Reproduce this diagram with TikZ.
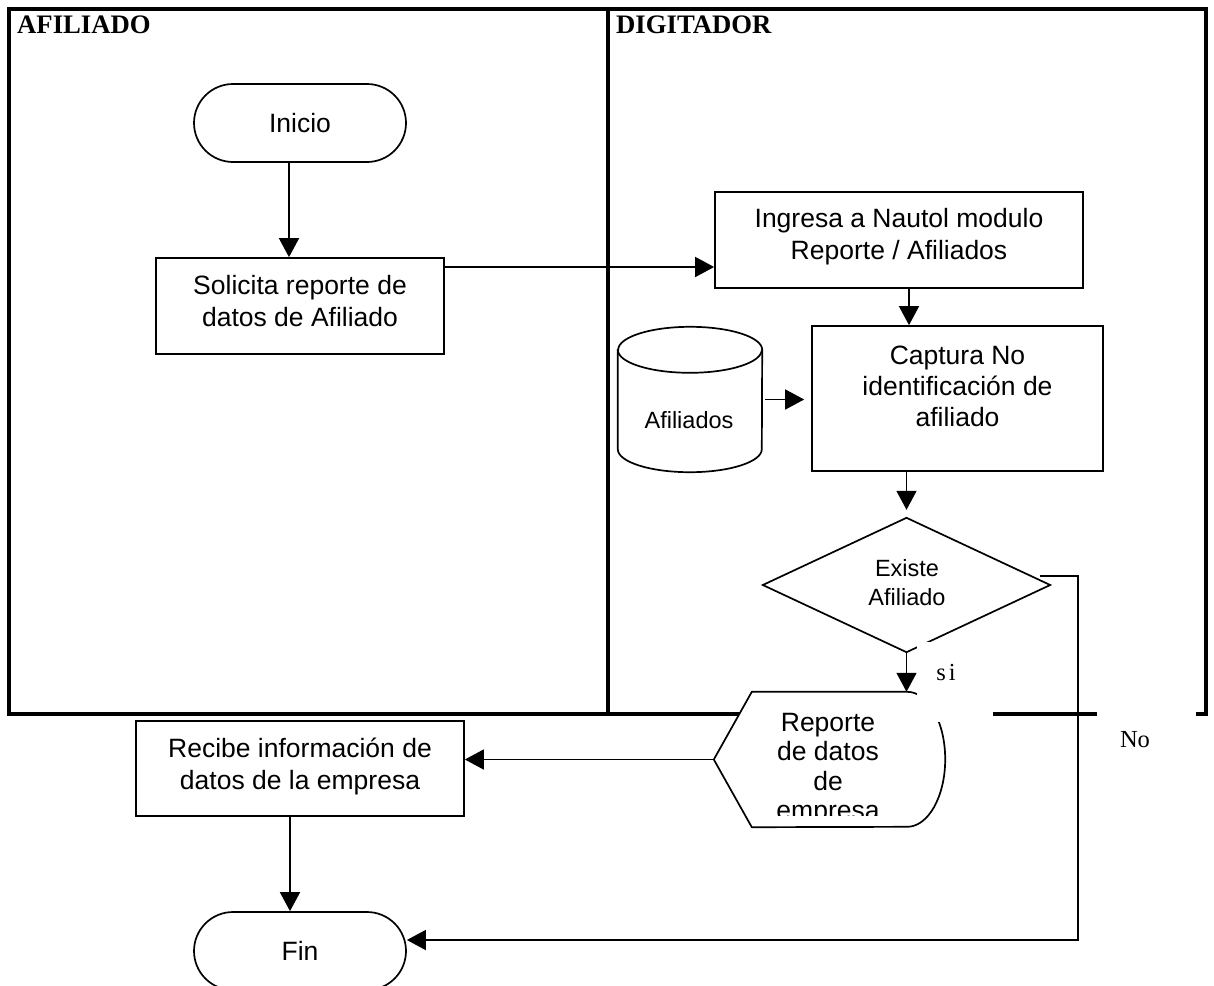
\documentclass[tikz,border=0pt]{standalone}
\usepackage{fontspec}
\setmainfont{Liberation Serif}
\newfontfamily\arialfont{Liberation Sans}
\usetikzlibrary{arrows.meta,shapes.misc,calc}

% fonts used in the flowchart
\newcommand{\fxbody}{\arialfont\fontsize{26.5}{32}\selectfont}
\newcommand{\fxsmall}{\arialfont\fontsize{23.5}{29}\selectfont}
\newcommand{\fxlane}{\bfseries\fontsize{26.7}{32}\selectfont}
\newcommand{\fxtag}{\fontsize{24.5}{29}\selectfont}

\begin{document}
\begin{tikzpicture}[x=1pt,y=-1pt,
  frame/.style={line width=3.2pt},
  box/.style={draw,line width=1.7pt,inner sep=0pt,fill=white},
  term/.style={draw,line width=1.7pt,rounded rectangle,inner sep=0pt,
               minimum width=212pt,minimum height=78pt,font=\fxbody},
  txt/.style={inner sep=0pt,align=center,font=\fxbody},
  small/.style={inner sep=0pt,align=center,font=\fxsmall},
  arr/.style={line width=1.6pt,-{Triangle[length=19pt,width=20pt]}},
  lane/.style={inner sep=0pt,anchor=base west,font=\fxlane},
  tag/.style={inner sep=0pt,font=\fxtag},
  shp/.style={line width=1.7pt}]

\useasboundingbox (0,0) rectangle (1214,985);
\clip (0,0) rectangle (1214,985);

% swimlanes
\draw[frame] (9,9) rectangle (1206,714);
\draw[frame] (608,9) -- (608,714);
\node[lane] (l1) at (17,33) {AFILIADO};
\node[lane] (l2) at (616,33) {DIGITADOR};

% process steps
\node[term] (ini) at (300,123) {Inicio};
\node[box,minimum width=288pt,minimum height=96pt] (sol) at (300,306) {};
\node[txt] at (300,301) {Solicita reporte de\\datos de Afiliado};
\node[box,minimum width=368pt,minimum height=96pt] (ing) at (899,240) {};
\node[txt] at (899,237) {Ingresa a Nautol modulo\\Reporte / Afiliados};
\node[box,minimum width=291pt,minimum height=145pt] (cap) at (957.5,398.5) {};
\node[txt,font={\arialfont\fontsize{26.5}{31}\selectfont}] at (957.5,386) {Captura No\\identificación de\\afiliado};

% database
\node[inner sep=0pt,minimum width=144pt,minimum height=145pt] (db) at (690,399.5) {};
\draw[shp,fill=white] ([yshift=-23pt]db.north west) -- ([yshift=23pt]db.south west)
  arc[start angle=180,end angle=360,x radius=72pt,y radius=23pt]
  -- ([yshift=-23pt]db.north east)
  arc[start angle=0,end angle=180,x radius=72pt,y radius=23pt] -- cycle;
\draw[shp] ([yshift=-23pt]db.north west) arc[start angle=180,end angle=360,x radius=72pt,y radius=23pt];
\node[small] at (689,420) {Afiliados};

% decision
\node[inner sep=0pt,minimum width=287pt,minimum height=134pt] (dia) at (906.5,585) {};
\draw[shp] (dia.north) -- (dia.east) -- (dia.south) -- (dia.west) -- cycle;
\node[small] at (907,582.5) {Existe\\Afiliado};

% report display
\node[inner sep=0pt,minimum width=231pt,minimum height=135pt] (rep) at (829.5,759.5) {};
\draw[shp,fill=white] (rep.west) -- ([xshift=38pt]rep.north west) -- ([xshift=-38pt]rep.north east)
  arc[start angle=90,end angle=-90,x radius=38pt,y radius=67.5pt]
  -- ([xshift=38pt]rep.south west) -- cycle;
\begin{scope}
  \clip (714,692) rectangle (945,815);
  \node[txt,font={\arialfont\fontsize{26.5}{29.5}\selectfont}] at (828,769) {Reporte\\de datos\\de\\empresa};
\end{scope}

% receiving step and end
\node[box,minimum width=328pt,minimum height=95pt] (rec) at (300,768.5) {};
\node[txt] at (300,766) {Recibe información de\\datos de la empresa};
\node[term] (fin) at (300,951) {Fin};

% branch label boxes
\fill[white] (917,642) rectangle (993,722);
\fill[white] (1097,700) rectangle (1196,790);
\node[tag] (si) at (946,672) {s\kern3pt i};
\node[tag] (no) at (1135,740) {No};

% connectors
\draw[arr] ([xshift=-11pt]ini.south) -- ([xshift=-11pt]sol.north);
\coordinate (s1) at ([yshift=39pt]sol.east);
\draw[arr] (s1) -- (s1 -| ing.west);
\draw[arr] ([xshift=10pt]ing.south) -- ([xshift=10pt]ing.south |- cap.north);
\draw[arr,shorten <=3pt,shorten >=7pt] (db.east) -- (db.east -| cap.west);
\draw[arr,shorten >=8pt] (cap.south -| dia.north) -- (dia.north);
\draw[arr] (dia.south) -- (dia.south |- rep.north);
\draw[arr] (rep.west) -- (rep.west -| rec.east);
\draw[arr] ([xshift=-10pt]rec.south) -- ([xshift=-10pt]rec.south |- fin.north);
\draw[arr] ([shift={(-10pt,9pt)}]dia.east) -- ++(38,0) |- ([yshift=11pt]fin.east);

\end{tikzpicture}
\end{document}
